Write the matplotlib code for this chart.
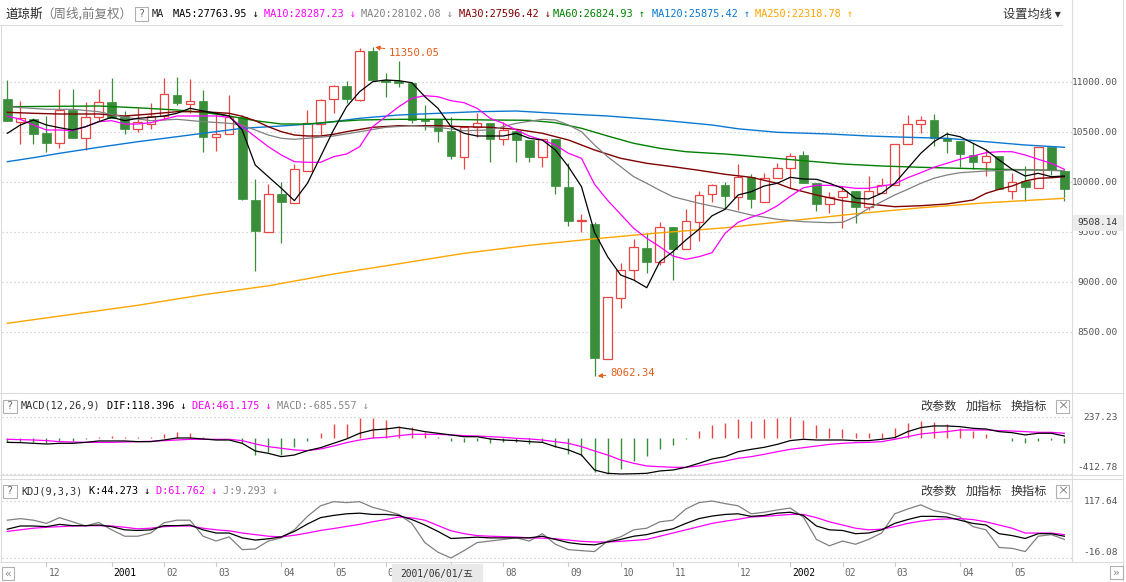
"""Weekly Dow Jones candlestick chart with MA, MACD and KDJ panels (screen-style layout)."""
import matplotlib

matplotlib.use("Agg")
import matplotlib.pyplot as plt  # noqa: E402
from matplotlib.lines import Line2D  # noqa: E402
from matplotlib.patches import Rectangle  # noqa: E402

# ---- weekly candles ----
opens = [10833, 10606, 10630, 10493, 10390, 10723, 10440, 10650, 10803, 10666,
         10536, 10580, 10666, 10873, 10786, 10813, 10456, 10480, 10650, 9823,
         9506, 9883, 9796, 10116, 10580, 10830, 10963, 10823, 11313, 11023,
         11016, 10996, 10633, 10630, 10513, 10256, 10550, 10590, 10430, 10513,
         10423, 10250, 10433, 9953, 9610, 9583, 8236, 8840, 9123, 9340,
         9200, 9550, 9330, 9606, 9883, 9973, 9856, 10050, 9806, 10040,
         10140, 10270, 9990, 9780, 9850, 9913, 9750, 9896, 9973, 10380,
         10580, 10623, 10440, 10413, 10273, 10200, 10263, 9916, 10013, 9940,
         10356, 10116]
highs = [11023, 10816, 10640, 10663, 10930, 10930, 10803, 10930, 11040, 10713,
         10750, 10796, 11040, 11056, 11030, 10923, 10706, 10873, 10673, 10033,
         9980, 10003, 10183, 10723, 10830, 10973, 11016, 11340, 11350.05, 11090,
         11213, 11000, 10773, 10630, 10650, 10560, 10696, 10590, 10606, 10513,
         10423, 10430, 10433, 10190, 9683, 9600, 8850, 9190, 9430, 9490,
         9600, 9550, 9730, 9913, 9983, 10006, 10180, 10083, 10090, 10196,
         10296, 10316, 9990, 9900, 9963, 9913, 10063, 10046, 10383, 10673,
         10663, 10683, 10506, 10413, 10390, 10330, 10263, 10096, 10163, 10356,
         10356, 10116]
lows = [10610, 10383, 10383, 10306, 10340, 10446, 10323, 10616, 10640, 10486,
        10506, 10530, 10623, 10773, 10696, 10306, 10316, 10480, 9823, 9116,
        9506, 9390, 9790, 10110, 10473, 10690, 10796, 10816, 11010, 10856,
        10956, 10590, 10523, 10406, 10233, 10136, 10456, 10206, 10373, 10206,
        10200, 10150, 9880, 9566, 9506, 8062.34, 8236, 8740, 9023, 9090,
        9173, 9023, 9330, 9416, 9806, 9740, 9723, 9746, 9800, 10040,
        9946, 9996, 9716, 9690, 9540, 9590, 9723, 9890, 9970, 10380,
        10490, 10366, 10290, 10150, 10130, 10063, 9930, 9830, 9816, 9940,
        10073, 9816]
closes = [10616, 10640, 10483, 10390, 10723, 10446, 10650, 10800, 10640, 10533,
          10600, 10666, 10880, 10796, 10813, 10456, 10480, 10650, 9833, 9516,
          9880, 9806, 10130, 10590, 10823, 10963, 10830, 11316, 11023, 11006,
          10996, 10623, 10616, 10516, 10263, 10556, 10590, 10436, 10523, 10423,
          10256, 10430, 9966, 9616, 9620, 8240, 8850, 9123, 9350, 9206,
          9550, 9330, 9610, 9870, 9970, 9863, 10056, 9830, 10040, 10140,
          10266, 9996, 9783, 9850, 9913, 9756, 9913, 9970, 10380, 10580,
          10620, 10446, 10416, 10283, 10206, 10263, 9930, 10006, 9956, 10356,
          10123, 9933]

# ---- moving averages ----
ma5 = [10490, 10573, 10623, 10573, 10546, 10523, 10556, 10606, 10650, 10616,
       10640, 10650, 10663, 10690, 10740, 10713, 10690, 10663, 10523, 10173,
       10056, 9940, 9816, 9990, 10256, 10523, 10756, 10906, 11006, 11023,
       11016, 10996, 10856, 10740, 10556, 10490, 10463, 10463, 10463, 10490,
       10440, 10423, 10323, 10156, 9956, 9500, 9256, 9073, 9023, 8946,
       9206, 9306, 9423, 9530, 9665, 9730, 9873, 9906, 9963, 9990,
       10050, 10033, 10030, 9990, 9940, 9840, 9833, 9890, 9990, 10140,
       10290, 10406, 10483, 10456, 10390, 10323, 10223, 10130, 10063, 10090,
       10056, 10063]
ma10 = [10663, 10630, 10573, 10523, 10523, 10516, 10556, 10606, 10616, 10583,
        10583, 10596, 10630, 10663, 10663, 10663, 10663, 10650, 10556, 10456,
        10356, 10273, 10206, 10200, 10200, 10256, 10283, 10356, 10556, 10656,
        10756, 10840, 10866, 10856, 10816, 10796, 10740, 10640, 10590, 10523,
        10463, 10423, 10373, 10290, 10240, 9980, 9820, 9680, 9540, 9440,
        9356, 9263, 9230, 9256, 9296, 9490, 9600, 9650, 9695, 9765,
        9860, 9945, 9970, 9970, 9956, 9940, 9940, 9963, 9983, 10046,
        10096, 10150, 10190, 10230, 10263, 10296, 10306, 10306, 10273, 10230,
        10190, 10130]
ma20_idx = [0, 3, 5, 7, 9, 11, 13, 15, 17, 18, 19, 20, 21, 22, 23, 25, 27, 29, 31, 33,
            35, 37, 39, 41, 42, 43, 44, 45, 46, 47, 48, 49, 50, 51, 52, 53, 55, 57, 59,
            61, 63, 64, 65, 66, 67, 68, 69, 70, 71, 72, 73, 75, 77, 79, 81]
ma20_val = [10756, 10730, 10730, 10706, 10650, 10616, 10630, 10606, 10590, 10573,
            10523, 10473, 10440, 10430, 10440, 10463, 10506, 10550, 10566, 10550,
            10516, 10523, 10590, 10630, 10623, 10573, 10506, 10373, 10256, 10156,
            10056, 9990, 9920, 9856, 9823, 9790, 9735, 9673, 9630,
            9606, 9596, 9600, 9656, 9740, 9806, 9873, 9930, 9990, 10040, 10073,
            10096, 10113, 10123, 10123, 10116]
ma30_idx = [0, 2, 4, 7, 9, 11, 13, 15, 17, 18, 19, 20, 21, 22, 23, 24, 25, 26, 28, 30,
            33, 35, 37, 39, 41, 43, 45, 47, 49, 51, 53, 55, 57, 59, 60, 62, 64, 66, 68,
            70, 72, 74, 75, 76, 77, 78, 79, 80, 81]
ma30_val = [10700, 10690, 10683, 10683, 10663, 10683, 10706, 10706, 10690, 10660,
            10616, 10556, 10506, 10473, 10463, 10463, 10480, 10506, 10550, 10566,
            10566, 10556, 10550, 10530, 10490, 10423, 10323, 10240, 10190, 10156,
            10120, 10080, 10050, 9990, 9940, 9873, 9816, 9783, 9756,
            9766, 9783, 9823, 9890, 9930, 9963, 10013, 10040, 10046, 10056]
ma60_idx = [0, 4, 7, 10, 13, 15, 17, 19, 21, 23, 25, 27, 30, 33, 37, 40, 42, 44, 46, 48,
            50, 52, 54, 55, 58, 61, 64, 67, 70, 73, 76, 79, 81]
ma60_val = [10756, 10760, 10763, 10745, 10723, 10700, 10663, 10616, 10583, 10583,
            10606, 10623, 10630, 10630, 10623, 10620, 10596, 10540, 10463, 10390,
            10340, 10306, 10290, 10283, 10250, 10216, 10183, 10163, 10150, 10140,
            10130, 10123, 10116]
ma120_idx = [0, 2, 4, 7, 10, 13, 15, 18, 21, 24, 27, 30, 33, 36, 39, 42, 46, 50, 54,
             56, 59, 63, 66, 69, 72, 75, 78, 81]
ma120_val = [10206, 10246, 10290, 10350, 10406, 10456, 10490, 10540, 10563, 10590,
             10640, 10673, 10690, 10706, 10713, 10690, 10663, 10623, 10573,
             10535, 10500, 10483, 10463, 10450, 10440, 10406, 10373, 10350]
ma250_idx = [0, 5, 10, 15, 20, 25, 30, 35, 40, 45, 50, 55, 60, 65, 70, 75, 81]
ma250_val = [8590, 8680, 8770, 8875, 8965, 9083, 9185, 9290, 9370, 9435,
             9495, 9545, 9615, 9685, 9745, 9795, 9840]

# ---- MACD(12,26,9) ----
dif = [-50, -53, -61, -69, -61, -61, -50, -34, -34, -34,
       -42, -42, -23, 0, 0, -11, -23, -23, -61, -149,
       -176, -214, -195, -145, -111, -61, -11, 54, 92, 103,
       122, 100, 73, 54, 35, 15, 15, -11, -23, -30,
       -42, -50, -99, -137, -195, -367, -405, -412.78, -410, -405,
       -378, -367, -336, -290, -241, -214, -157, -130, -107, -73,
       -30, -15, -23, -23, -23, -30, -30, -15, 4, 73,
       119, 138, 138, 130, 111, 103, 73, 61, 35, 54,
       54, 23]
dea = [-15, -19, -23, -30, -42, -46, -50, -50, -50, -46,
       -42, -38, -30, -23, -15, -15, -15, -15, -30, -68,
       -99, -118, -137, -145, -126, -92, -53, -23, 0, 8,
       27, 42, 42, 42, 35, 27, 23, 15, 8, -4,
       -11, -23, -42, -61, -99, -149, -195, -252, -290, -321,
       -329, -336, -336, -321, -290, -264, -233, -214, -187, -157,
       -130, -111, -92, -73, -61, -53, -50, -42, -15, 15,
       46, 61, 73, 92, 92, 92, 84, 80, 73, 65,
       65, 54]
macd_hist = [-50, -42, -50, -61, -31, -31, -11, 11, 19, 11,
             8, 8, 46, 65, 61, 11, 0, -4, -57, -191,
             -164, -191, -107, -31, 57, 161, 161, 233, 230, 212,
             134, 122, 65, 11, -31, -42, -31, -57, -50, -50,
             -69, -50, -107, -184, -203, -394, -412, -356, -260, -203,
             -126, -80, -8, 84, 153, 172, 218, 199, 218, 229,
             237.23, 207, 153, 115, 103, 57, 57, 57, 115, 172,
             191, 180, 161, 111, 84, 46, -4, -38, -57, -31,
             -19, -57]

# ---- KDJ(9,3,3) ----
k_vals = [51.5, 59.0, 59.0, 57.5, 62.8, 59.8, 59.8, 61.3, 57.5, 50.0,
          48.5, 50.0, 59.8, 59.8, 61.3, 50.0, 42.5, 42.5, 31.2, 26.0,
          29.0, 33.5, 46.3, 63.6, 78.6, 83.8, 87.6, 89.1, 86.1, 86.1,
          83.8, 74.1, 61.3, 46.3, 29.7, 31.2, 32.8, 31.2, 31.2, 31.2,
          31.2, 35.0, 27.5, 20.0, 16.2, 14.7, 21.5, 27.5, 35.0, 38.8,
          46.3, 52.3, 65.1, 76.3, 82.3, 86.1, 87.6, 81.6, 83.8, 89.1,
          91.3, 83.8, 59.0, 50.0, 48.5, 41.0, 42.5, 50.0, 65.1, 74.1,
          81.6, 81.6, 80.1, 72.6, 65.1, 61.3, 41.0, 36.5, 29.7, 41.0,
          41.0, 35.0]
d_vals = [46.3, 50.0, 53.8, 56.0, 57.5, 59.0, 59.8, 59.8, 59.0, 56.0,
          52.3, 53.8, 57.5, 59.0, 59.0, 53.8, 50.0, 47.8, 42.5, 38.8,
          35.0, 33.5, 37.3, 42.5, 48.5, 53.0, 58.0, 62.8, 69.0, 74.1,
          80.0, 78.0, 72.6, 60.0, 47.8, 41.0, 36.5, 35.0, 34.0, 33.0,
          31.2, 30.5, 29.0, 26.0, 23.0, 21.5, 21.5, 23.0, 25.2, 27.5,
          35.0, 42.5, 50.0, 57.5, 65.1, 70.3, 74.8, 80.1, 81.6, 83.8,
          86.1, 86.1, 78.6, 68.8, 61.3, 53.8, 50.0, 51.5, 57.5, 65.1,
          70.3, 74.1, 75.6, 76.3, 74.1, 68.8, 61.3, 53.8, 42.5, 42.5,
          42.5, 38.8]
j_vals = [72.6, 76.3, 72.6, 65.1, 78.6, 68.8, 59.0, 67.3, 50.0, 35.0,
          35.0, 42.5, 66.6, 72.6, 72.6, 35.0, 23.7, 33.5, 3.5, 5.0,
          23.7, 31.2, 50.0, 81.6, 106.4, 116.1, 113.9, 116.1, 102.6, 95.1,
          86.1, 65.1, 20.0, -2.5, -16.08, 1.2, 20.0, 23.7, 27.5, 31.2,
          23.7, 41.0, 16.2, 3.5, 1.2, -1.0, 23.7, 33.5, 50.0, 53.8,
          68.8, 72.6, 98.9, 113.9, 117.64, 111.6, 106.4, 87.6, 91.3, 96.6,
          101.1, 80.1, 27.5, 12.5, 23.7, 16.2, 27.5, 42.5, 87.6, 98.9,
          108.6, 95.1, 89.1, 80.1, 57.5, 50.0, 8.7, 6.5, -1.0, 35.0,
          38.8, 27.5]

# ---- axis labels ----
price_ticks = [11000, 10500, 10000, 9500, 9000, 8500]
# the "07" label sits under the date tooltip, so only its tick is kept
month_idx = [3, 8, 12, 16, 21, 25, 29, 34, 38, 43, 47, 51, 56, 60, 64, 68, 73, 77]
month_lab = ["12", "2001", "02", "03", "04", "05", "06", "", "08", "09",
             "10", "11", "12", "2002", "02", "03", "04", "05"]
ma_labels = [("MA5:27763.95 ↓", "#000000"), ("MA10:28287.23 ↓", "#ff00ff"),
             ("MA20:28102.08 ↓", "#808080"), ("MA30:27596.42 ↓", "#800000"),
             ("MA60:26824.93 ↑", "#008000"), ("MA120:25875.42 ↑", "#0a78d2"),
             ("MA250:22318.78 ↑", "#ffa500")]

W, H = 1126, 582
RED, GREEN = "#e84545", "#3a8e3a"
MONO = ["DejaVu Sans Mono", "Noto Sans CJK SC"]
CJK = ["Noto Sans CJK SC", "DejaVu Sans"]
BORDER = "#dcdcdc"

fig = plt.figure(figsize=(W / 100, H / 100), dpi=100)


def prect(x0, y0, x1, y1):
    return [x0 / W, 1 - y1 / H, (x1 - x0) / W, (y1 - y0) / H]


def ftext(x, y, s, color="#333333", size=7.4, family=MONO, ha="left", z=3):
    return fig.text(x / W, 1 - y / H, s, color=color, fontsize=size, family=family,
                    ha=ha, va="center", zorder=z)


def fline(xs, ys, color=BORDER, lw=0.8):
    fig.add_artist(Line2D([x / W for x in xs], [1 - y / H for y in ys],
                          transform=fig.transFigure, color=color, lw=lw))


def fbox(x0, y0, x1, y1, fc="none", ec="#b0b0b0", lw=0.8, z=3):
    fig.add_artist(Rectangle((x0 / W, 1 - y1 / H), (x1 - x0) / W, (y1 - y0) / H,
                             transform=fig.transFigure, fc=fc, ec=ec, lw=lw, zorder=z))


XLIM = ((2 - 7.3) / 13.05, (1072 - 7.3) / 13.05)
GRID = dict(color="#cccccc", lw=0.9, ls=(0, (1, 2.2)), zorder=0)

# ---------------- main price panel ----------------
ax = fig.add_axes(prect(2, 28, 1072, 392))
ax.set_xlim(*XLIM)
ax.set_ylim(10000 + (182.3 - 392) * 10, 10000 + (182.3 - 28) * 10)
ax.set_axis_off()
for p in price_ticks:
    ax.axhline(p, **GRID)

bw = 0.66
for i, (o, h, lo, c) in enumerate(zip(opens, highs, lows, closes)):
    if c >= o:
        ax.vlines(i, lo, o, color=RED, lw=0.9, zorder=1)
        ax.vlines(i, c, h, color=RED, lw=0.9, zorder=1)
        ax.add_patch(Rectangle((i - bw / 2, o), bw, max(c - o, 6), fc="white",
                               ec=RED, lw=0.9, zorder=2))
    else:
        ax.vlines(i, lo, h, color=GREEN, lw=0.9, zorder=1)
        ax.add_patch(Rectangle((i - bw / 2, c), bw, max(o - c, 6), fc=GREEN,
                               ec=GREEN, lw=0.5, zorder=2))

idx = list(range(len(closes)))
ax.plot(ma250_idx, ma250_val, color="#ffa500", lw=1.0, zorder=3)
ax.plot(ma120_idx, ma120_val, color="#0a78d2", lw=1.0, zorder=3)
ax.plot(ma60_idx, ma60_val, color="#008000", lw=1.0, zorder=3)
ax.plot(ma30_idx, ma30_val, color="#800000", lw=1.0, zorder=3)
ax.plot(ma20_idx, ma20_val, color="#808080", lw=0.9, zorder=3)
ax.plot(idx, ma10, color="#ff00ff", lw=0.9, zorder=3)
ax.plot(idx, ma5, color="#000000", lw=0.9, zorder=4)

ANN = "#e35d1c"
ax.annotate("11350.05", xy=(28.2, 11350.05), xytext=(389, H - 52.7), textcoords="figure pixels",
            ha="left", va="center", color=ANN, fontsize=7.6, family=MONO,
            arrowprops=dict(arrowstyle="-|>,head_length=0.35,head_width=0.18", color=ANN,
                            lw=0.7, shrinkA=1, shrinkB=0))
ax.annotate("8062.34", xy=(45.25, 8062.34), xytext=(610, H - 372.7), textcoords="figure pixels",
            ha="left", va="center", color=ANN, fontsize=7.6, family=MONO,
            arrowprops=dict(arrowstyle="-|>,head_length=0.35,head_width=0.18", color=ANN,
                            lw=0.7, shrinkA=1, shrinkB=0))

# ---------------- MACD panel ----------------
mscale = 650.01 / 56.7
axm = fig.add_axes(prect(2, 393, 1072, 475))
axm.set_xlim(*XLIM)
axm.set_ylim(-412.78 - 1 * mscale, 237.23 + (417.3 - 393) * mscale)
axm.set_axis_off()
axm.axhline(237.23, **GRID)
axm.axhline(-412.78, **GRID)
axm.vlines(idx, 0, macd_hist, colors=[RED if v > 0 else GREEN for v in macd_hist], lw=1.0)
axm.plot(idx, dea, color="#ff00ff", lw=0.9)
axm.plot(idx, dif, color="#000000", lw=0.9)

# ---------------- KDJ panel ----------------
kscale = 133.72 / 57
axk = fig.add_axes(prect(2, 479, 1072, 562))
axk.set_xlim(*XLIM)
axk.set_ylim(-16.08 - 4 * kscale, 117.64 + 22 * kscale)
axk.set_axis_off()
axk.axhline(117.64, **GRID)
axk.axhline(-16.08, **GRID)
axk.plot(idx, j_vals, color="#808080", lw=0.9)
axk.plot(idx, d_vals, color="#ff00ff", lw=0.9)
axk.plot(idx, k_vals, color="#000000", lw=0.9)

# ---------------- frame lines ----------------
fline([0, 1062], [25, 25])
fline([1, 1], [25, 562])
fline([0, 1123], [393, 393])
fline([0, 1123], [475, 475])
fline([0, 1123], [479, 479])
fline([0, 1123], [562, 562])
fline([1072, 1072], [0, 562])
fline([1123, 1123], [0, 582])

# ---------------- header ----------------
ftext(5, 14, "道琼斯", color="#222222", size=9, family=CJK)
ftext(41, 14, "（周线,前复权）", color="#777777", size=9, family=CJK)
fbox(135, 7.5, 148, 21)
ftext(141.5, 14, "?", color="#666666", size=7.4, ha="center")
ftext(152, 14, "MA", color="#222222")
for (lab, col), x0 in zip(ma_labels, [173, 264, 361, 459, 553, 652, 755]):
    ftext(x0, 14, lab, color=col)
ftext(1003, 14, "设置均线 ▾", color="#333333", size=8.8, family=CJK)

# MACD / KDJ headers
for y0, parts in [(406, [("MACD(12,26,9)", 20.7, "#333333"), ("DIF:118.396 ↓", 107, "#000000"),
                         ("DEA:461.175 ↓", 192, "#ff00ff"), ("MACD:-685.557 ↓", 277, "#888888")]),
                  (491, [("KDJ(9,3,3)", 21, "#333333"), ("K:44.273 ↓", 88.6, "#000000"),
                         ("D:61.762 ↓", 156, "#ff00ff"), ("J:9.293 ↓", 223, "#888888")])]:
    fbox(3, y0 - 6.5, 17, y0 + 6.5)
    ftext(10, y0, "?", color="#666666", ha="center")
    for s, x0, col in parts:
        ftext(x0, y0, s, color=col)
    ftext(920.7, y0, "改参数", size=8.7, family=CJK)
    ftext(965.7, y0, "加指标", size=8.7, family=CJK)
    ftext(1010.7, y0, "换指标", size=8.7, family=CJK)
    fbox(1056, y0 - 6.5, 1069, y0 + 6.5)
    ftext(1062.5, y0, "×", color="#666666", size=8, family=CJK, ha="center")

# ---------------- right axis labels ----------------
AXSIZE = 6.8
for p in price_ticks:
    ftext(1118, 182.3 - (p - 10000) * 0.1, f"{p:.2f}", color="#555555", size=AXSIZE, ha="right")
fbox(1073, 215, 1122, 230, fc="#ececec", ec="#ececec", z=4)
ftext(1118, 222.5, "9508.14", color="#333333", size=AXSIZE, ha="right", z=5)
ftext(1118, 417.3, "237.23", color="#555555", size=AXSIZE, ha="right")
ftext(1118, 467.7, "-412.78", color="#555555", size=AXSIZE, ha="right")
ftext(1118, 501, "117.64", color="#555555", size=AXSIZE, ha="right")
ftext(1118, 552.7, "-16.08", color="#555555", size=AXSIZE, ha="right")

# ---------------- time axis ----------------
for i, lab in zip(month_idx, month_lab):
    xt = 7.3 + 13.05 * i
    fline([xt, xt], [562, 566], color="#cccccc")
    if lab:
        ftext(xt + 2, 573.5, lab, color="#000000" if len(lab) == 4 else "#666666", size=6.9)
fbox(392, 564, 482, 582, fc="#e9e9e9", ec="#e9e9e9", z=4)
ftext(437, 573.5, "2001/06/01/五", color="#333333", size=6.9, ha="center", z=5)
fbox(2, 567, 14, 580)
ftext(8, 573.5, "«", color="#888888", size=8, ha="center")
fbox(1110, 566, 1123, 579)
ftext(1116.5, 572.5, "»", color="#888888", size=8, ha="center")

fig.savefig("out.png", dpi=100)
plt.close(fig)
